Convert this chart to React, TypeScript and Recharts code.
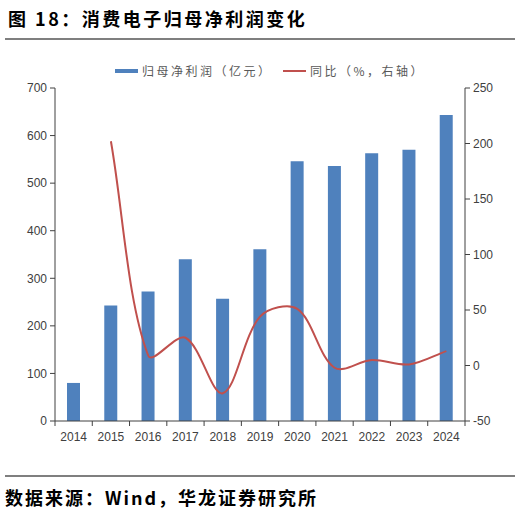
import React from "react";
import { ComposedChart, Bar, Line, XAxis, YAxis } from "recharts";

const years = ["2014", "2015", "2016", "2017", "2018", "2019", "2020", "2021", "2022", "2023", "2024"];
const netProfit = [80, 243, 272, 340, 257, 361, 546, 536, 563, 570, 643];
const yoyGrowth: (number | null)[] = [null, 202, 9, 25, -25, 44, 51, -2, 5, 1, 13];
const leftTicks = [0, 100, 200, 300, 400, 500, 600, 700];
const rightTicks = [-50, 0, 50, 100, 150, 200, 250];

const data = years.map((y, i) => ({ year: y, profit: netProfit[i], yoy: yoyGrowth[i] }));

const BAR_COLOR = "#4F81BD";
const LINE_COLOR = "#C0504D";
const AXIS_COLOR = "#404040";
const TEXT_COLOR = "#404040";
const FONT = "'Liberation Sans', Arial, sans-serif";
const CJK = "'Noto Sans CJK SC', sans-serif";

// Excel-like smoothed line: bezier with tangents split by segment lengths
function excelCurve(context: any) {
  let pts: [number, number][] = [];
  const dist = (a: [number, number], b: [number, number]) => Math.hypot(b[0] - a[0], b[1] - a[1]);
  return {
    areaStart() {},
    areaEnd() {},
    lineStart() {
      pts = [];
    },
    point(x: number, y: number) {
      pts.push([+x, +y]);
    },
    lineEnd() {
      const n = pts.length;
      if (!n) return;
      context.moveTo(pts[0][0], pts[0][1]);
      if (n === 1) return;
      const t = 1 / 3;
      const outC: [number, number][] = [];
      const inC: [number, number][] = [];
      for (let i = 0; i < n; i++) {
        const p1 = pts[i];
        const p0 = pts[i - 1] || p1;
        const p2 = pts[i + 1] || p1;
        const d0 = dist(p0, p1);
        const d1 = dist(p1, p2);
        const s = d0 + d1 || 1;
        const dx = p2[0] - p0[0];
        const dy = p2[1] - p0[1];
        outC[i] = [p1[0] + dx * (d1 / s) * t, p1[1] + dy * (d1 / s) * t];
        inC[i] = [p1[0] - dx * (d0 / s) * t, p1[1] - dy * (d0 / s) * t];
      }
      for (let i = 0; i < n - 1; i++) {
        context.bezierCurveTo(outC[i][0], outC[i][1], inC[i + 1][0], inC[i + 1][1], pts[i + 1][0], pts[i + 1][1]);
      }
    },
  };
}

const XTick = (props: any) => {
  const { x, y, payload, index, visibleTicksCount } = props;
  const half = payload && payload.offset ? payload.offset : 18.6;
  const last = index === (visibleTicksCount ?? years.length) - 1;
  return (
    <g>
      <line x1={x - half} y1={y} x2={x - half} y2={y + 5} stroke={AXIS_COLOR} strokeWidth={1} />
      {last && <line x1={x + half} y1={y} x2={x + half} y2={y + 5} stroke={AXIS_COLOR} strokeWidth={1} />}
      <text x={x} y={y + 20} textAnchor="middle" fill={TEXT_COLOR} fontSize={12} fontFamily={FONT}>
        {payload.value}
      </text>
    </g>
  );
};

export default function App() {
  return (
    <div style={{ position: "absolute", left: 0, top: 0, width: 521, height: 517, background: "#fff", overflow: "hidden" }}>
      <div
        style={{
          position: "absolute",
          left: 8,
          top: 5,
          fontFamily: CJK,
          fontWeight: 700,
          fontSize: 18,
          letterSpacing: 2.5,
          color: "#000",
          whiteSpace: "nowrap",
        }}
      >
        图 18：消费电子归母净利润变化
      </div>
      <div style={{ position: "absolute", left: 5, top: 38, width: 510, height: 2, background: "#7f7f7f" }} />

      {/* legend */}
      <div style={{ position: "absolute", left: 115, top: 69, width: 23, height: 4, background: BAR_COLOR }} />
      <div
        style={{
          position: "absolute",
          left: 142,
          top: 62,
          fontFamily: CJK,
          fontSize: 12,
          letterSpacing: 2.5,
          color: "#595959",
          whiteSpace: "nowrap",
        }}
      >
        归母净利润（亿元）
      </div>
      <div style={{ position: "absolute", left: 283, top: 70, width: 23, height: 2, background: LINE_COLOR }} />
      <div
        style={{
          position: "absolute",
          left: 310,
          top: 62,
          fontFamily: CJK,
          fontSize: 12,
          letterSpacing: 2.5,
          color: "#595959",
          whiteSpace: "nowrap",
        }}
      >
        同比（%，右轴）
      </div>

      <div style={{ position: "absolute", left: 0, top: 0 }}>
        <ComposedChart
          width={521}
          height={517}
          data={data}
          margin={{ top: 88, right: 16, bottom: 66, left: 15 }}
          barCategoryGap={0}
        >
          <XAxis
            dataKey="year"
            xAxisId="x"
            axisLine={{ stroke: AXIS_COLOR, strokeWidth: 1 }}
            tickLine={false}
            tickSize={0}
            tickMargin={0}
            height={30}
            interval={0}
            tick={<XTick />}
          />
          <YAxis
            yAxisId="left"
            orientation="left"
            domain={[0, 700]}
            ticks={leftTicks}
            interval={0}
            width={40}
            axisLine={{ stroke: AXIS_COLOR, strokeWidth: 1 }}
            tickLine={{ stroke: AXIS_COLOR }}
            tickSize={5}
            tickMargin={3}
            tick={{ fill: TEXT_COLOR, fontSize: 12, fontFamily: FONT }}
          />
          <YAxis
            yAxisId="right"
            orientation="right"
            domain={[-50, 250]}
            ticks={rightTicks}
            interval={0}
            width={40}
            axisLine={{ stroke: AXIS_COLOR, strokeWidth: 1 }}
            tickLine={{ stroke: AXIS_COLOR }}
            tickSize={5}
            tickMargin={3}
            tick={{ fill: TEXT_COLOR, fontSize: 12, fontFamily: FONT }}
          />
          <Bar
            dataKey="profit"
            xAxisId="x"
            yAxisId="left"
            fill={BAR_COLOR}
            barSize={13}
            isAnimationActive={false}
          />
          <Line
            dataKey="yoy"
            xAxisId="x"
            yAxisId="right"
            type={excelCurve as any}
            stroke={LINE_COLOR}
            strokeWidth={2}
            dot={false}
            activeDot={false}
            connectNulls={false}
            isAnimationActive={false}
          />
        </ComposedChart>
      </div>

      <div style={{ position: "absolute", left: 5, top: 475, width: 510, height: 2, background: "#7f7f7f" }} />
      <div
        style={{
          position: "absolute",
          left: 5,
          top: 484,
          fontFamily: CJK,
          fontWeight: 700,
          fontSize: 18,
          letterSpacing: 2,
          color: "#000",
          whiteSpace: "nowrap",
        }}
      >
        数据来源：Wind，华龙证券研究所
      </div>
    </div>
  );
}
